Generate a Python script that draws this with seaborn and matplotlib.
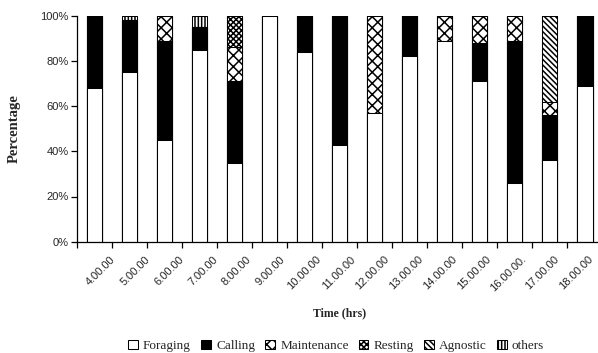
import matplotlib
matplotlib.use("Agg")
import matplotlib.pyplot as plt
from matplotlib.patches import Patch
from matplotlib.ticker import PercentFormatter, FixedLocator
import numpy as np
import pandas as pd
import seaborn as sns

# Activity budget (% of observations) per hour of the day
times = ["4.00.00", "5.00.00", "6.00.00", "7.00.00", "8.00.00", "9.00.00",
         "10.00.00", "11.00.00", "12.00.00", "13.00.00", "14.00.00",
         "15.00.00", "16.00.00.", "17.00.00", "18.00.00"]
foraging = [68, 75, 45, 85, 35, 100, 84, 43, 57, 82, 89, 71, 26, 36, 69]
calling = [32, 23, 44, 10, 36, 0, 16, 57, 0, 18, 0, 17, 63, 20, 31]
maintenance = [0, 0, 11, 0, 15, 0, 0, 0, 43, 0, 11, 12, 11, 6, 0]
resting = [0, 0, 0, 0, 14, 0, 0, 0, 0, 0, 0, 0, 0, 0, 0]
agnostic = [0, 0, 0, 0, 0, 0, 0, 0, 0, 0, 0, 0, 0, 38, 0]
others = [0, 2, 0, 5, 0, 0, 0, 0, 0, 0, 0, 0, 0, 0, 0]

activities = ["Foraging", "Calling", "Maintenance", "Resting", "Agnostic", "others"]
series = [foraging, calling, maintenance, resting, agnostic, others]
faces = ["white", "black", "white", "white", "white", "white"]
hatches = [None, None, "xxx", "xxxxxx", "\\\\\\\\\\\\", "|||||"]

sns.set_theme(style="white")
plt.rcParams["hatch.linewidth"] = 1.1
plt.rcParams["font.family"] = ["Liberation Sans", "DejaVu Sans"]

df = pd.DataFrame({name: np.array(vals, dtype=float) / 100 for name, vals in zip(activities, series)})
df["Time"] = times
cum = df[activities].cumsum(axis=1)

fig = plt.figure(figsize=(5.98, 3.53), dpi=100)
W, H = 598, 353
ax = fig.add_axes([77 / W, (H - 241.7) / H, 525.5 / W, 226 / H])

# stacked bars: draw cumulative totals from the top layer down
for i in range(len(activities) - 1, -1, -1):
    name = activities[i]
    sns.barplot(x=df["Time"], y=cum[name], order=times, ax=ax,
                color=faces[i], saturation=1, hatch=hatches[i],
                edgecolor="black", linewidth=0.75, width=0.43,
                errorbar=None)

ax.set_xlim(-0.5, len(times) - 0.5)
ax.set_ylim(0, 1)
ax.yaxis.set_major_locator(FixedLocator(np.arange(0, 1.01, 0.2)))
ax.yaxis.set_major_formatter(PercentFormatter(1, decimals=0))

for s in ["top", "right"]:
    ax.spines[s].set_visible(False)
for s in ["left", "bottom"]:
    ax.spines[s].set_color("black")
    ax.spines[s].set_linewidth(0.9)

ax.tick_params(axis="y", direction="out", length=4, width=0.9, color="black",
               labelsize=8, pad=2, left=True)
# category boundaries carry the visible tick marks
ax.xaxis.set_minor_locator(FixedLocator(np.arange(-0.5, len(times), 1.0)))
ax.tick_params(axis="x", which="minor", direction="out", length=4, width=0.9,
               color="black", bottom=True)
# rotated labels sit on a slightly tighter pitch than the bars
label_pos = [-0.5 + (24 + 33.9 * i) / 35 for i in range(len(times))]
ax.set_xticks(label_pos)
ax.set_xticklabels(times, rotation=45, ha="center", va="top")
ax.tick_params(axis="x", which="major", length=0, labelsize=8, pad=9)

ax.set_xlabel("Time (hrs)", family="Liberation Serif", fontweight="bold", fontsize=8.5)
ax.xaxis.set_label_coords(0.5, (241.7 - 313) / 226)
ax.xaxis.label.set_va("center")
ax.set_ylabel("Percentage", family="Liberation Serif", fontweight="bold", fontsize=10.5)
ax.yaxis.set_label_coords((14 - 77) / 525.5, 0.5)
ax.yaxis.label.set_va("center")

handles = [Patch(facecolor=f, edgecolor="black", hatch=h, linewidth=0.75)
           for f, h in zip(faces, hatches)]
leg = fig.legend(handles, activities, loc="center", ncol=6, frameon=False,
                 bbox_to_anchor=(336 / W, (H - 346) / H),
                 prop={"family": "Liberation Serif", "size": 9.5},
                 handlelength=0.75, handleheight=0.75, handletextpad=0.4,
                 columnspacing=0.75)

fig.savefig("out.png", dpi=100)
